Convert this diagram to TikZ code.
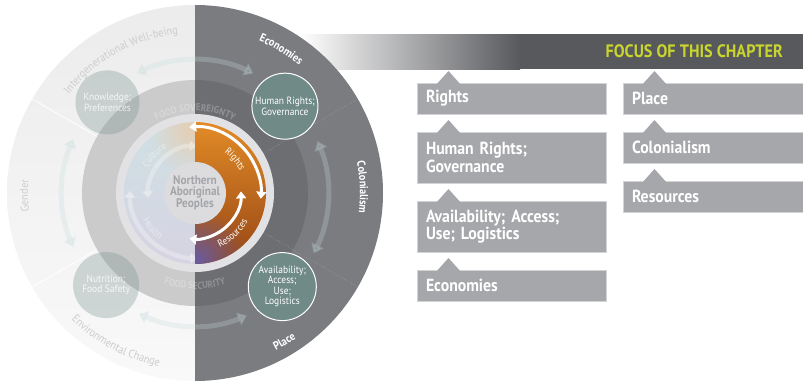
\documentclass[tikz,border=0pt]{standalone}
\usepackage{fontspec}
\setmainfont{PT Sans}[FakeStretch=0.9]
\usetikzlibrary{positioning, calc, arrows.meta, decorations.text, fadings}

\definecolor{outerTop}{HTML}{ECECEC}
\definecolor{outerBot}{HTML}{F9F9F9}
\definecolor{outerR}{HTML}{7B7C80}
\definecolor{midL}{HTML}{CBCBCC}
\definecolor{midR}{HTML}{6D6E72}
\definecolor{ringW}{HTML}{E2E2E4}
\definecolor{hub}{HTML}{DCDCDE}
\definecolor{hubtext}{HTML}{A4A5A8}
\definecolor{teal}{HTML}{6F8A87}
\definecolor{boxgrey}{HTML}{A6A7AA}
\definecolor{boxedge}{HTML}{D2D3D5}
\definecolor{bardark}{HTML}{58595D}
\definecolor{focus}{HTML}{C9D52E}
\definecolor{fadetext}{HTML}{CDCDCF}
\definecolor{loopcol}{HTML}{C5DCDD}
\definecolor{divline}{HTML}{A2A3A7}
\definecolor{cultureblue}{HTML}{CFE1E4}
\definecolor{healthlav}{HTML}{D6D3E2}
\definecolor{rightsorange}{HTML}{E28B27}
\definecolor{rightsmid}{HTML}{B85D1A}
\definecolor{resbrown}{HTML}{974615}
\definecolor{purp}{HTML}{6A5C9E}
\definecolor{beige}{HTML}{E6CDB2}

\tikzfading[name=softspot, inner color=transparent!0, outer color=transparent!100]

\tikzset{topicbox/.style={fill=boxgrey, draw=boxedge, line width=0.8pt, outer sep=0pt,
    anchor=north west, text width=171pt, inner xsep=9pt, inner ysep=0pt, align=left,
    text=white, font=\fontsize{17.5}{17.7}\selectfont\bfseries}}
\tikzset{factor/.style={circle, fill=teal, draw=white, line width=1pt, inner sep=0pt,
    minimum size=#1, align=center, text=white, font=\fontsize{10.5}{10.5}\selectfont},
  factor/.default=66pt}
\tikzset{ghostfactor/.style={factor=#1, draw=none, fill opacity=0.3, text opacity=0.8},
  ghostfactor/.default=64pt}
\tikzset{hubnode/.style={circle, fill=hub, minimum size=62pt, inner sep=0pt, align=center,
    text=hubtext, font=\fontsize{12.5}{10.5}\selectfont\bfseries}}
\tikzset{ringloop/.style={draw=loopcol, line width=5pt, opacity=0.27,
    {Triangle[width=13pt,length=9pt]}-{Triangle[width=13pt,length=9pt]}}}
\tikzset{whiteloop/.style={draw=white, line width=3pt,
    {Triangle[width=10pt,length=7pt]}-{Triangle[width=10pt,length=7pt]}}}
\tikzset{innerloop/.style={draw=white, line width=4.5pt, opacity=0.3,
    {Triangle[width=11pt,length=7pt]}-{Triangle[width=11pt,length=7pt]}}}
\tikzset{arclabel/.style={decorate, decoration={text along path, text align=center, text={#1}}}}

\newcommand{\ringfont}{\fontsize{11.5}{11.5}\selectfont}
\newcommand{\innerfont}{\fontsize{10}{10}\selectfont}
\newcommand{\foodfont}{\fontsize{10}{10}\selectfont\bfseries}

\begin{document}
\begin{tikzpicture}[x=1pt, y=1pt]
  \useasboundingbox (0,0) rectangle (803,384);
  \coordinate (c) at (195,191);

  % TITLE BAR

  \shade[left color=white, right color=bardark] (300,315) rectangle (520,350);
  \fill[bardark] (519.5,315) rectangle (803,350);
  \node[anchor=east, inner sep=0pt, text=focus, font=\fontsize{18}{18}\selectfont\bfseries]
    (focus) at (783,333) {FOCUS OF THIS CHAPTER};

  % OUTER RING

  \shade[top color=outerTop, bottom color=outerBot] (c) -- ($(c)+(90:188)$)
    arc[start angle=90, end angle=270, radius=188] -- cycle;
  \fill[outerR] (c) -- ($(c)+(90:188)$) arc[start angle=90, end angle=-90, radius=188] -- cycle;
  \draw[white, line width=0.8pt] ($(c)+(150:113)$) -- ($(c)+(150:188)$);
  \draw[white, line width=0.8pt] ($(c)+(210:113)$) -- ($(c)+(210:188)$);

  % MIDDLE RING

  \fill[midL] (c) -- ($(c)+(90:113)$) arc[start angle=90, end angle=270, radius=113] -- cycle;
  \fill[midR] (c) -- ($(c)+(90:113)$) arc[start angle=90, end angle=-90, radius=113] -- cycle;
  \draw[divline, line width=0.6pt, dotted] ($(c)+(30:79)$) -- ($(c)+(30:188)$);
  \draw[divline, line width=0.6pt, dotted] ($(c)+(-30:79)$) -- ($(c)+(-30:188)$);
  \fill[ringW] (c) circle[radius=79];

  % INNER CIRCLE, LEFT HALF

  \shade[top color=cultureblue, bottom color=healthlav] (c) -- ($(c)+(90:71)$)
    arc[start angle=90, end angle=270, radius=71] -- cycle;
  \begin{scope}
    \clip (c) -- ($(c)+(90:71)$) arc[start angle=90, end angle=270, radius=71] -- cycle;
    \fill[beige, path fading=softspot] ($(c)+(-2,64)$) circle[radius=46];
  \end{scope}
  \draw[innerloop] ($(c)+(88:47)$) arc[start angle=88, end angle=186, radius=47];
  \draw[innerloop] ($(c)+(178:65)$) arc[start angle=178, end angle=272, radius=65];
  \begin{scope}[opacity=0.45]
    \path[arclabel={|\innerfont\color{white}|Culture}] ($(c)+(162:53)$)
      arc[start angle=162, end angle=112, radius=53];
    \path[arclabel={|\innerfont\color{white}|Health}] ($(c)+(193:59)$)
      arc[start angle=193, end angle=247, radius=59];
  \end{scope}

  % INNER CIRCLE, RIGHT HALF

  \shade[top color=rightsorange, middle color=rightsmid, bottom color=resbrown] (c) -- ($(c)+(90:71)$)
    arc[start angle=90, end angle=-90, radius=71] -- cycle;
  \begin{scope}
    \clip (c) -- ($(c)+(90:71)$) arc[start angle=90, end angle=-90, radius=71] -- cycle;
    \fill[purp, path fading=softspot] ($(c)+(2,-66)$) circle[radius=50];
  \end{scope}

  \node[hubnode] (hub) at (c) {Northern\\Aboriginal\\Peoples};

  % ARROWS

  \draw[whiteloop] ($(c)+(95:66)$) arc[start angle=95, end angle=-5, radius=66];
  \draw[whiteloop] ($(c)+(2:46)$) arc[start angle=2, end angle=-97, radius=46];
  \path[arclabel={|\innerfont\color{white}|Rights}] ($(c)+(64:50)$)
    arc[start angle=64, end angle=16, radius=50];
  \path[arclabel={|\innerfont\color{white}|Resources}] ($(c)+(-80:60)$)
    arc[start angle=-80, end angle=-14, radius=60];

  \draw[ringloop] ($(c)+(116:133)$) arc[start angle=116, end angle=64, radius=133];
  \draw[ringloop] ($(c)+(23:133)$) arc[start angle=23, end angle=-27, radius=133];
  \draw[ringloop] ($(c)+(156:133)$) arc[start angle=156, end angle=204, radius=133];
  \draw[ringloop] ($(c)+(245:133)$) arc[start angle=245, end angle=293, radius=133];

  % RING LABELS

  \begin{scope}[opacity=0.25]
    \path[arclabel={|\foodfont\color{white}|FOOD SOVEREIGNTY}] ($(c)+(130:82)$)
      arc[start angle=130, end angle=50, radius=82];
    \path[arclabel={|\foodfont\color{white}|FOOD SECURITY}] ($(c)+(235:96)$)
      arc[start angle=235, end angle=305, radius=96];
  \end{scope}

  \path[arclabel={|\ringfont\bfseries\color{white}|Economies}] ($(c)+(80:165)$)
    arc[start angle=80, end angle=38, radius=165];
  \path[arclabel={|\ringfont\bfseries\color{white}|Colonialism}] ($(c)+(23:165)$)
    arc[start angle=23, end angle=-19, radius=165];
  \path[arclabel={|\ringfont\bfseries\color{white}|Place}] ($(c)+(-80:177)$)
    arc[start angle=-80, end angle=-38, radius=177];
  \path[arclabel={|\ringfont\color{fadetext}|Intergenerational Well-being}] ($(c)+(150:160)$)
    arc[start angle=150, end angle=88, radius=160];
  \path[arclabel={|\ringfont\color{fadetext}|Gender}] ($(c)+(200:167)$)
    arc[start angle=200, end angle=162, radius=167];
  \path[arclabel={|\ringfont\color{fadetext}|Environmental Change}] ($(c)+(218:177)$)
    arc[start angle=218, end angle=266, radius=177];

  % FACTORS

  \node[factor] (humanrights) at ($(c)+(44:125)$) {Human Rights;\\Governance};
  \node[factor=68pt] (availability) at ($(c)+(-47:128)$) {Availability;\\Access;\\Use;\\Logistics};
  \node[ghostfactor] (knowledge) at ($(c)+(134:126)$) {Knowledge;\\Preferences};
  \node[ghostfactor=66pt] (nutrition) at ($(c)+(226:128)$) {Nutrition;\\Food Safety};

  % BOXES

  \node[topicbox, minimum height=31pt] (boxrights) at (417,301) {Rights};
  \node[topicbox, minimum height=51pt] (boxhuman) at ($(boxrights.south west)-(0,18)$) {Human Rights;\\Governance};
  \node[topicbox, minimum height=51pt] (boxavail) at ($(boxhuman.south west)-(0,18)$) {Availability; Access;\\Use; Logistics};
  \node[topicbox, minimum height=31pt] (boxecon) at ($(boxavail.south west)-(0,18)$) {Economies};

  \node[topicbox, minimum height=31pt] (boxplace) at (623,301) {Place};
  \node[topicbox, minimum height=31pt] (boxcolon) at ($(boxplace.south west)-(0,18)$) {Colonialism};
  \node[topicbox, minimum height=31pt] (boxres) at ($(boxcolon.south west)-(0,18)$) {Resources};

  % TABS

  \fill[boxgrey] ($(boxrights.north west)+(20,-0.8)$) -- ++(11.5,12.8) -- ++(11.5,-12.8) -- cycle;
  \fill[boxgrey] ($(boxhuman.north west)+(20,-0.8)$) -- ++(11.5,12.8) -- ++(11.5,-12.8) -- cycle;
  \fill[boxgrey] ($(boxavail.north west)+(20,-0.8)$) -- ++(11.5,12.8) -- ++(11.5,-12.8) -- cycle;
  \fill[boxgrey] ($(boxecon.north west)+(20,-0.8)$) -- ++(11.5,12.8) -- ++(11.5,-12.8) -- cycle;
  \fill[boxgrey] ($(boxplace.north west)+(20,-0.8)$) -- ++(11.5,12.8) -- ++(11.5,-12.8) -- cycle;
  \fill[boxgrey] ($(boxcolon.north west)+(20,-0.8)$) -- ++(11.5,12.8) -- ++(11.5,-12.8) -- cycle;
  \fill[boxgrey] ($(boxres.north west)+(20,-0.8)$) -- ++(11.5,12.8) -- ++(11.5,-12.8) -- cycle;
\end{tikzpicture}
\end{document}
